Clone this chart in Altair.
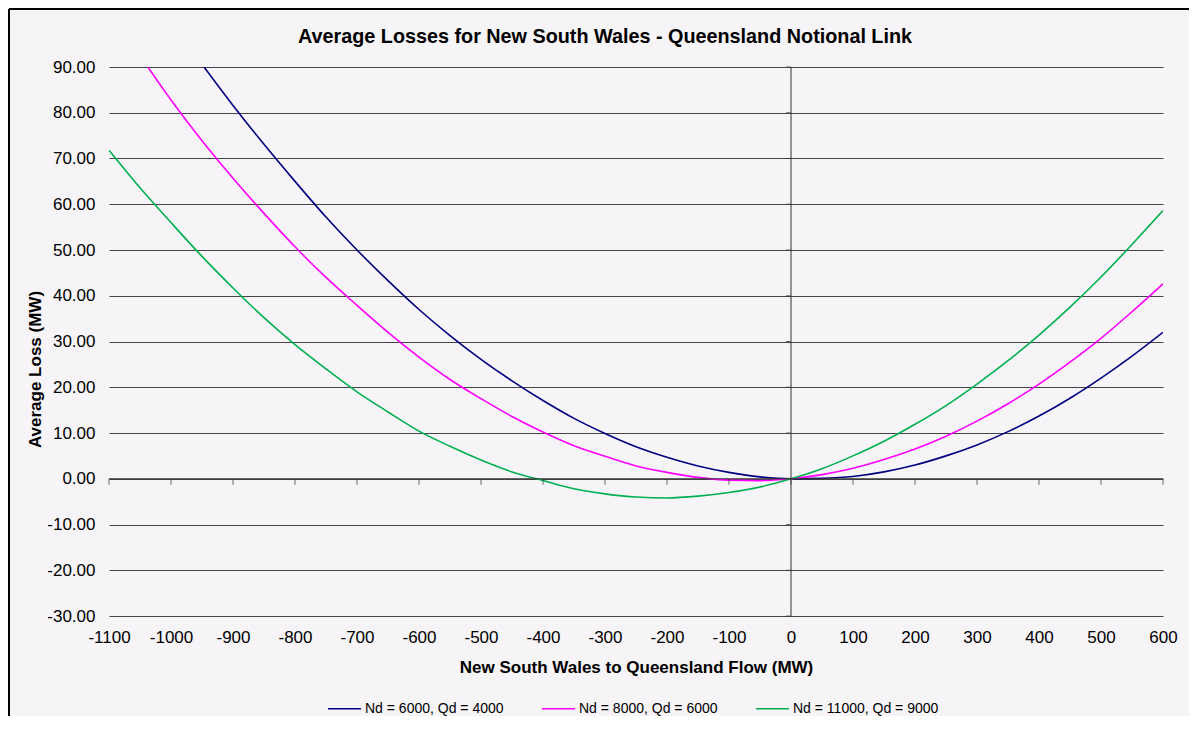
import altair as alt
import pandas as pd

FONT = "Liberation Sans"

series_names = ["Nd = 6000, Qd = 4000", "Nd = 8000, Qd = 6000", "Nd = 11000, Qd = 9000"]
series_colors = ["#000080", "#ff00ff", "#00b050"]

flow_blue = list(range(-950, 601, 50))
loss_blue = [90.6, 81.6, 73.1, 65.0, 57.2, 50.0, 43.3, 37.0, 31.3, 26.1,
             21.4, 17.1, 13.2, 9.9, 7.0, 4.7, 2.8, 1.4, 0.4, 0.0,
             0.1, 0.5, 1.5, 3.0, 5.0, 7.4, 10.3, 13.7, 17.6, 22.0,
             26.8, 32.0]

flow_pink = list(range(-1050, 601, 50))
loss_pink = [92.5, 82.8, 73.9, 65.7, 58.0, 50.7, 44.0, 37.9, 32.0, 26.6,
             21.7, 17.5, 13.6, 10.2, 7.2, 4.9, 2.8, 1.4, 0.3, -0.3,
             -0.4, 0.0, 0.9, 2.3, 4.2, 6.5, 9.3, 12.6, 16.4, 20.7,
             25.5, 30.7, 36.5, 42.6]

flow_green = list(range(-1100, 601, 50))
loss_green = [71.8, 63.6, 56.0, 48.6, 41.7, 35.2, 29.3, 24.0, 19.0, 14.6,
              10.4, 7.1, 4.1, 1.5, -0.4, -2.2, -3.3, -4.0, -4.2, -3.8,
              -3.0, -1.8, 0.0, 2.2, 5.0, 8.2, 11.9, 16.0, 20.7, 25.8,
              31.4, 37.5, 44.1, 51.2, 58.6]

x_ticks = list(range(-1100, 601, 100))
y_ticks = list(range(-30, 91, 10))

rows = []
for name, fl, ls in [(series_names[0], flow_blue, loss_blue),
                     (series_names[1], flow_pink, loss_pink),
                     (series_names[2], flow_green, loss_green)]:
    for f, l in zip(fl, ls):
        rows.append({"series": name, "flow": f, "loss": l})
df = pd.DataFrame(rows)

W, H = 1054, 549
PAD = {"left": 101, "top": 59, "right": 26, "bottom": 100}
xscale = alt.Scale(domain=[-1100, 600], nice=False, zero=False)
yscale = alt.Scale(domain=[-30, 90], nice=False, zero=False)

x_axis = alt.Axis(
    values=x_ticks, title="New South Wales to Queensland Flow (MW)",
    grid=False, domain=False, ticks=False, labelFlush=False, labelOverlap=False,
    labelExpr="(datum.value < 0 ? '-' : '') + format(abs(datum.value), 'd')",
    labelFont=FONT, labelFontSize=17, labelColor="black", labelPadding=13,
    titleFont=FONT, titleFontSize=17, titleFontWeight="bold", titleColor="black",
    titleY=51, titleBaseline="middle",
)
y_axis = alt.Axis(
    values=y_ticks, title="Average Loss (MW)",
    grid=True, gridColor="#444444", gridWidth=1, domain=False, ticks=False,
    labelExpr="(datum.value < 0 ? '-' : '') + format(abs(datum.value), '.2f')",
    labelFont=FONT, labelFontSize=17, labelColor="black", labelPadding=14,
    titleFont=FONT, titleFontSize=17, titleFontWeight="bold", titleColor="black",
    titleX=-74, titleY=302, titleBaseline="middle",
)

X = alt.X("flow:Q", scale=xscale, axis=x_axis)
Y = alt.Y("loss:Q", scale=yscale, axis=y_axis)

lines = alt.Chart(df).mark_line(strokeWidth=1.6, clip=True, interpolate="monotone").encode(
    x=X, y=Y,
    color=alt.Color("series:N",
                    scale=alt.Scale(domain=series_names, range=series_colors),
                    sort=series_names,
                    legend=alt.Legend(orient="none", legendX=218, legendY=624,
                                      direction="horizontal", columns=3, title=None,
                                      symbolType="stroke", symbolSize=1089,
                                      symbolStrokeWidth=1.6, labelFont=FONT,
                                      labelFontSize=14, labelColor="black",
                                      labelOffset=3, columnPadding=34, padding=0,
                                      labelLimit=400, gridAlign="each")),
)

# zero lines (axes crossing at 0)
hz = pd.DataFrame({"flow": [x_ticks[0]], "flow_end": [x_ticks[-1]], "loss": [0]})
h_axis = alt.Chart(hz).mark_rule(color="#333333", strokeWidth=1).encode(
    x=X, x2="flow_end:Q", y=Y)
vz = pd.DataFrame({"flow": [0], "loss": [y_ticks[0]], "loss_end": [y_ticks[-1]]})
v_axis = alt.Chart(vz).mark_rule(color="#333333", strokeWidth=1).encode(
    x=X, y=Y, y2="loss_end:Q")

xt = pd.DataFrame({"flow": x_ticks, "loss": [0] * len(x_ticks)})
x_tick_marks = alt.Chart(xt).mark_tick(orient="vertical", size=6, thickness=1,
                                       yOffset=3, color="#333333").encode(x=X, y=Y)
yt = pd.DataFrame({"flow": [0] * len(y_ticks), "loss": y_ticks})
y_tick_marks = alt.Chart(yt).mark_tick(orient="horizontal", size=5, thickness=1,
                                       xOffset=-2.5, color="#333333").encode(x=X, y=Y)

# outer chart frame (only top and left edges are visible in the reference crop)
one = pd.DataFrame({"k": [0]})
border_top = alt.Chart(one).mark_rule(color="black", strokeWidth=2).encode(
    x=alt.value(-PAD["left"] + 1), x2=alt.value(W + PAD["right"]),
    y=alt.value(-PAD["top"] + 1))
border_left = alt.Chart(one).mark_rule(color="black", strokeWidth=2).encode(
    x=alt.value(-PAD["left"] + 1), y=alt.value(-PAD["top"] + 1),
    y2=alt.value(H + PAD["bottom"]))

chart = alt.layer(lines, h_axis, v_axis, x_tick_marks, y_tick_marks,
                  border_top, border_left).properties(
    width=W, height=H,
    autosize="none",
    padding=PAD,
    title=alt.TitleParams(
        "Average Losses for New South Wales - Queensland Notional Link",
        font=FONT, fontSize=19.8, fontWeight="bold", color="black",
        anchor="middle", frame="group", dx=-31, baseline="middle", offset=-48.5),
    background="#f6f4f6",
).configure_view(stroke=None)

chart.save("out.html", embed_options={"renderer": "svg", "actions": False})
